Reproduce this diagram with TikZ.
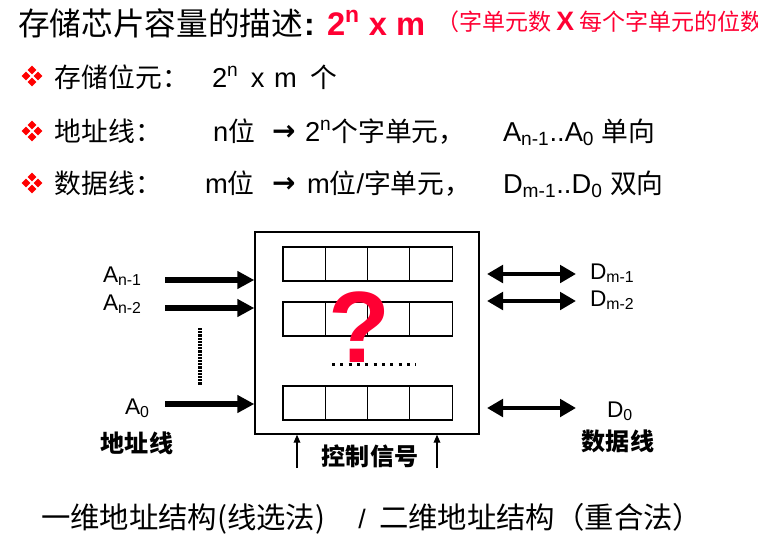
\documentclass[tikz,border=0pt]{standalone}
\usepackage{fontspec}
\setmainfont{Liberation Sans}
\newfontfamily\cjk{Noto Sans CJK SC}[Scale=1.08]
\newfontfamily\symfont{DejaVu Sans}
\usetikzlibrary{arrows.meta}
\definecolor{titlered}{RGB}{255,0,51}
\definecolor{bulletred}{RGB}{255,0,0}
% Chinese words inside the bullet lines
\newcommand\lz[1]{{\cjk\fontsize{18.6}{22}\selectfont #1}}

\begin{document}
\begin{tikzpicture}[x=0.75pt,y=-0.75pt,
  txt/.style={inner sep=0pt, outer sep=0pt, anchor=base west},
  linefont/.style={font=\fontsize{20.5}{24}\selectfont},
  lblfont/.style={font=\fontsize{17}{20}\selectfont},
  boldlbl/.style={inner sep=0pt, font=\cjk\bfseries\fontsize{16.7}{20}\selectfont},
  cell/.style={draw, line width=0.8pt, inner sep=0pt, minimum width=31.7pt, minimum height=25.5pt},
  addrarrow/.style={line width=4.5pt, -{Triangle[length=12.75pt,width=12.75pt]}},
  dataarrow/.style={line width=3.6pt, {Triangle[length=12pt,width=13pt]}-{Triangle[length=12pt,width=13pt]}},
  ctrlarrow/.style={line width=0.9pt, -{Triangle[length=6pt,width=5pt]}},
  bulletmark/.pic={
    \foreach \dx/\dy in {0/-6,6/0,0/6,-6/0}
      \fill[bulletred] (\dx,\dy) ++(0,-4.3) -- ++(4.3,4.3) -- ++(-4.3,4.3) -- ++(-4.3,-4.3) -- cycle;
  }]
\useasboundingbox (0,0) rectangle (758,537);

% heading
\node[txt, font=\cjk\fontsize{22}{26}\selectfont] (title) at (18,35) {存储芯片容量的描述};
\node[txt, font=\bfseries\fontsize{24}{28}\selectfont] (colon) at (304,35) {:};
\node[txt, text=titlered, font=\bfseries\fontsize{24.5}{30}\selectfont] (size) at (327,35) {2\textsuperscript{n} x m};
\node[txt, text=titlered, font=\cjk\fontsize{16}{19}\selectfont] (note) at (436,30)
  {（字单元数 {\rmfamily\bfseries\fontsize{20}{22}\selectfont X} 每个字单元的位数）};

% bullet lines
\pic at (32,76) {bulletmark};
\pic at (32,131) {bulletmark};
\pic at (32,183) {bulletmark};

\node[txt, linefont] (l1a) at (55,87) {\lz{存储位元：}};
\node[txt, linefont] (l1b) at (212,87) {2\textsuperscript{n}\hspace{0.45em}x\hspace{0.35em}m\hspace{0.5em}\lz{个}};

\node[txt, linefont] (l2a) at (55,141) {\lz{地址线：}};
\node[txt, linefont] (l2b) at (213,141) {n\lz{位}};
\node[txt, font=\symfont\bfseries\fontsize{21}{24}\selectfont] (l2c) at (272,140) {→};
\node[txt, linefont] (l2d) at (305,141) {2\textsuperscript{n}\lz{个字单元，}};
\node[txt, linefont] (l2e) at (503,141) {A\textsubscript{n-1}..A\textsubscript{0} \lz{单向}};

\node[txt, linefont] (l3a) at (55,193) {\lz{数据线：}};
\node[txt, linefont] (l3b) at (205,193) {m\lz{位}};
\node[txt, font=\symfont\bfseries\fontsize{21}{24}\selectfont] (l3c) at (272,192) {→};
\node[txt, linefont] (l3d) at (307,193) {m\lz{位}/\lz{字单元，}};
\node[txt, linefont] (l3e) at (503,193) {D\textsubscript{m-1}..D\textsubscript{0} \lz{双向}};

% memory chip with its word cells
\node[draw, line width=1pt, inner sep=0pt, minimum width=168pt, minimum height=151.5pt] (chip) at (367,333) {};
\foreach \r/\y in {1/264,2/319,3/403}
  \foreach \c/\x in {1/304.1,2/346.4,3/388.6,4/430.9}
    \node[cell] (cell\r\c) at (\x,\y) {};

\node[inner sep=0pt, anchor=base, text=titlered, font=\bfseries\fontsize{76}{80}\selectfont] (quest) at (359,362) {?};
\coordinate (dotl) at (332,364);
\coordinate (dotr) at (416,364);
\draw[line width=2.25pt, dash pattern=on 2.25pt off 4pt] (dotl) -- (dotr);

% address lines
\node[txt, lblfont] (an1) at (103,282) {A\textsubscript{n-1}};
\node[txt, lblfont] (an2) at (103,310) {A\textsubscript{n-2}};
\node[txt, lblfont] (a0) at (125,414) {A\textsubscript{0}};
\coordinate (s1) at (165,280);
\coordinate (s2) at (165,308);
\coordinate (s0) at (165,404);
\draw[addrarrow] (s1) -- (s1 -| chip.west);
\draw[addrarrow] (s2) -- (s2 -| chip.west);
\draw[addrarrow] (s0) -- (s0 -| chip.west);
\coordinate (vtop) at (200,328);
\coordinate (vbot) at (200,385);
\draw[line width=3.2pt, dash pattern=on 1.6pt off 0.8pt] (vtop) -- (vbot);
\node[boldlbl] (addr) at (137,443) {地址线};

% data lines
\coordinate (d1l) at (487,274);
\coordinate (d1r) at (576,274);
\coordinate (d2l) at (487,301);
\coordinate (d2r) at (576,301);
\coordinate (d0l) at (487,408);
\coordinate (d0r) at (576,408);
\draw[dataarrow] (d1l) -- (d1r);
\draw[dataarrow] (d2l) -- (d2r);
\draw[dataarrow] (d0l) -- (d0r);
\node[txt, lblfont] (dm1) at (590,279) {D\textsubscript{m-1}};
\node[txt, lblfont] (dm2) at (590,306) {D\textsubscript{m-2}};
\node[txt, lblfont] (d0) at (607,417) {D\textsubscript{0}};
\node[boldlbl] (data) at (618,441) {数据线};

% control signals
\coordinate (c1) at (297,468);
\coordinate (c2) at (437,468);
\draw[ctrlarrow] (c1) -- (c1 |- chip.south);
\draw[ctrlarrow] (c2) -- (c2 |- chip.south);
\node[boldlbl] (ctrl) at (370,456) {控制信号};

% bottom caption
\node[txt, font=\cjk\fontsize{20.4}{24}\selectfont] (cap1) at (41,528) {一维地址结构(线选法)};
\node[inner sep=0pt, anchor=base, font=\fontsize{20}{24}\selectfont] (slash) at (362,528) {/};
\node[txt, font=\cjk\fontsize{20.4}{24}\selectfont] (cap2) at (379,528) {二维地址结构（重合法）};
\end{tikzpicture}
\end{document}
